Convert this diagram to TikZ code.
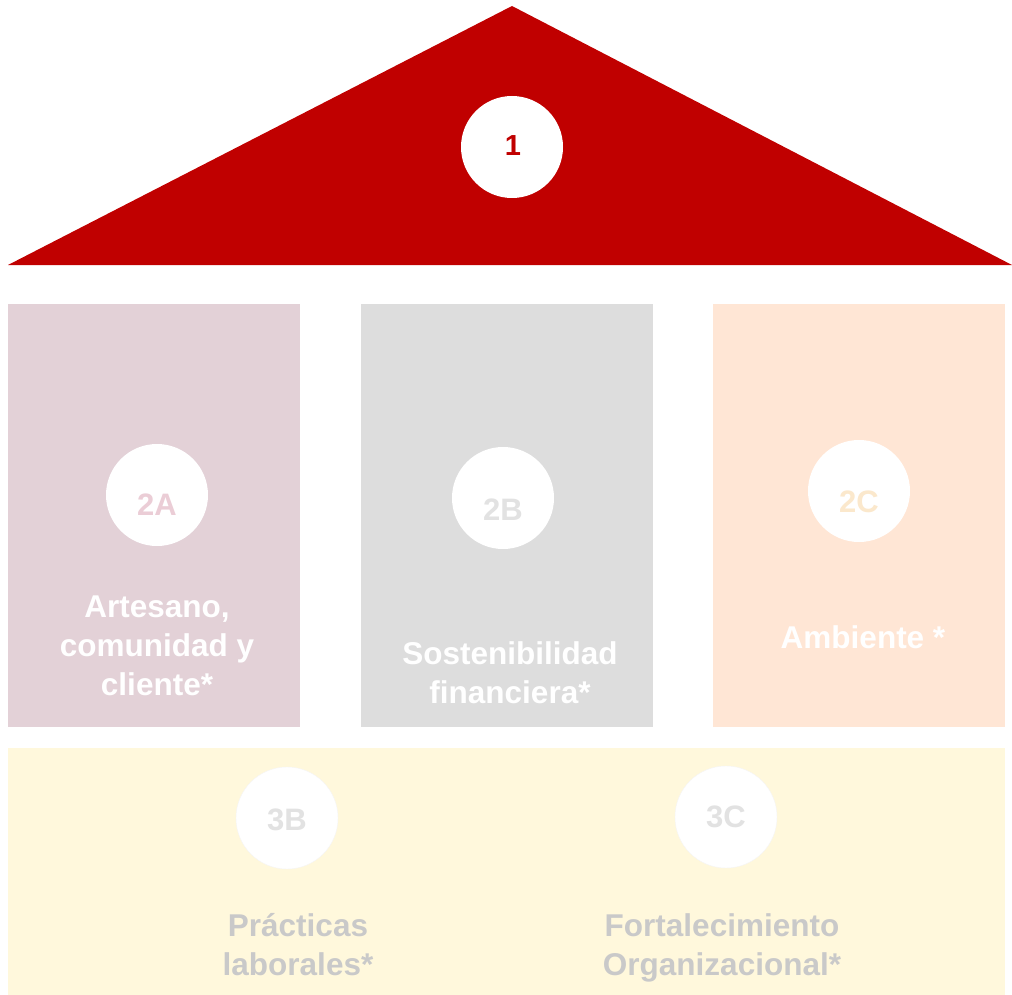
\documentclass[tikz,border=0pt]{standalone}
\usepackage{fontspec}
\setmainfont{Liberation Sans}
\definecolor{roofred}{HTML}{C00000}
\definecolor{pillarA}{HTML}{E3D1D7}
\definecolor{pillarB}{HTML}{DDDDDD}
\definecolor{pillarC}{HTML}{FFE6D5}
\definecolor{basecol}{HTML}{FFF8DC}
\definecolor{numA}{HTML}{EBCDD6}
\definecolor{numB}{HTML}{E2E2E2}
\definecolor{numC}{HTML}{FBE8CC}
\definecolor{numbase}{HTML}{E2E2E2}
\definecolor{basetext}{HTML}{C9C9C9}
\tikzset{
  badge/.style={circle,fill=white,minimum size=102pt,inner sep=0pt},
  badgenum/.style={font=\bfseries\fontsize{31}{36}\selectfont},
  pillartext/.style={align=center,text=white,font=\bfseries\fontsize{31.5}{39}\selectfont},
  basetextstyle/.style={align=center,text=basetext,font=\bfseries\fontsize{31.5}{39}\selectfont}
}
\begin{document}
\begin{tikzpicture}[x=1pt,y=-1pt]
\useasboundingbox (0,0) rectangle (1012,995);
% roof
\fill [roofred] (512,6) -- (1012,265) -- (8,265) -- cycle;
\node (one) [badge] at (512,147) {};
\node (labone) at (513,146) [font=\bfseries\fontsize{29}{32}\selectfont,text=roofred] {1};
% pillars
\fill [pillarA] (8,304) rectangle (300,727);
\fill [pillarB] (361,304) rectangle (653,727);
\fill [pillarC] (713,304) rectangle (1005,727);
\node (twoA) [badge] at (157,495) {};
\node (twoB) [badge] at (503,498) {};
\node (twoC) [badge] at (859,491) {};
\node (labA) [badgenum,text=numA] at (157,505) {2A};
\node (labB) [badgenum,text=numB] at (503,510) {2B};
\node (labC) [badgenum,text=numC] at (859,502) {2C};
\node (artesano) [pillartext] at (157,646) {Artesano,\\comunidad y\\cliente*};
\node (sosten) [pillartext] at (510,673) {Sostenibilidad\\financiera*};
\node (ambiente) [pillartext] at (863,637) {Ambiente *};
% base
\fill [basecol] (8,748) rectangle (1005,995);
\node (threeB) [badge,draw=gray!8] at (287,818) {};
\node (threeC) [badge,draw=gray!8] at (726,817) {};
\node (labthreeB) [badgenum,text=numbase] at (287,820) {3B};
\node (labthreeC) [badgenum,text=numbase] at (726,817) {3C};
\node (practicas) [basetextstyle] at (298,945) {Prácticas\\laborales*};
\node (fortal) [basetextstyle] at (722,948) {Fortalecimiento\\Organizacional*};
\end{tikzpicture}
\end{document}
